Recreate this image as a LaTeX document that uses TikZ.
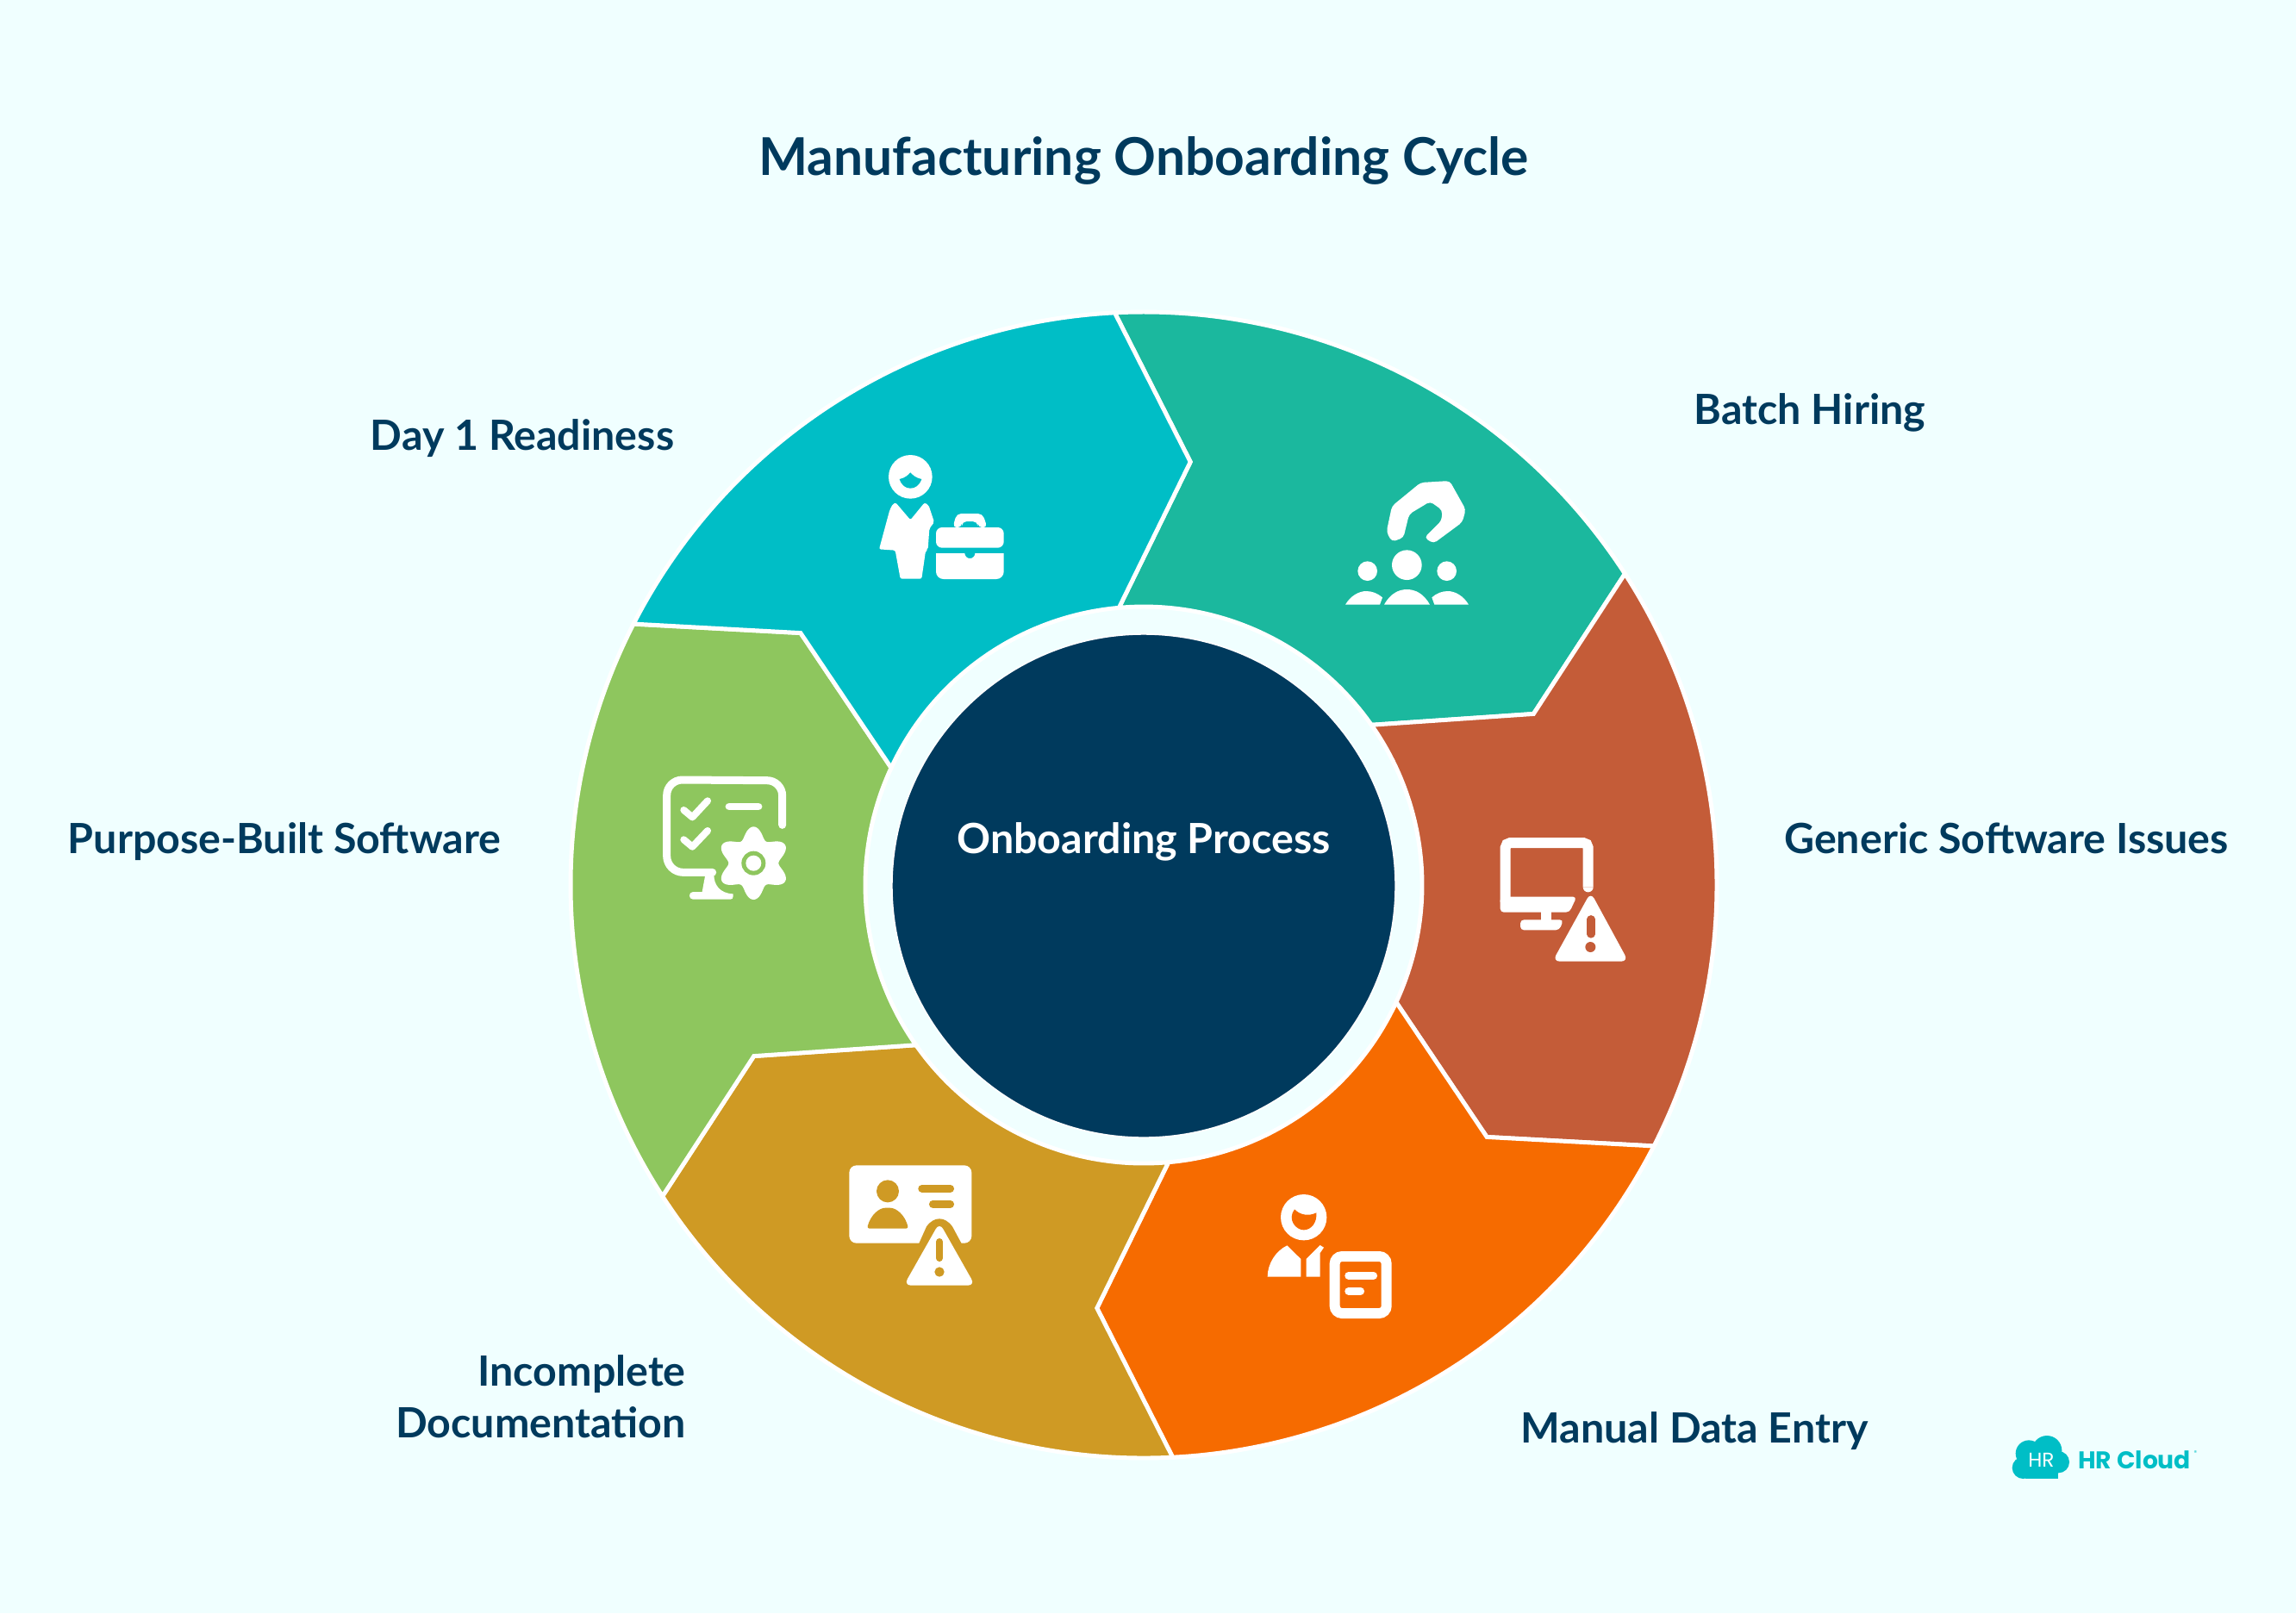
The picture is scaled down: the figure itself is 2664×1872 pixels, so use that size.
\documentclass[tikz,border=0pt]{standalone}
\usepackage{fontspec}
\setmainfont{Lato}
\newfontfamily\logofont{Poppins}
\definecolor{pagebg}{HTML}{F0FFFF}
\definecolor{navy}{HTML}{003A5D}
\definecolor{batchcol}{HTML}{1BB89E}
\definecolor{genericcol}{HTML}{C45C38}
\definecolor{manualcol}{HTML}{F66B00}
\definecolor{incompletecol}{HTML}{CF9A24}
\definecolor{purposecol}{HTML}{8EC65E}
\definecolor{daycol}{HTML}{00BEC6}
\tikzset{
  sector/.style = {draw=white, line width=1.4pt, line join=miter},
  hub/.style = {circle, fill=navy, draw=white, line width=0.5pt, minimum size=5.84cm, inner sep=0pt},
  title/.style = {font=\fontsize{17.2}{20}\selectfont\bfseries, text=navy},
  label/.style = {font=\fontsize{13.75}{17}\selectfont\bfseries, text=navy},
  icon/.style = {x=0.01cm/3, y=-0.01cm/3},
  glyph/.style = {fill=white},
}
\begin{document}
\begin{tikzpicture}[x=0.01cm, y=-0.01cm]
\pgfmathsetmacro{\Ro}{665} % outer radius
\pgfmathsetmacro{\Rm}{494} % arrow tips
\pgfmathsetmacro{\Ri}{323} % inner radius
\fill[pagebg] (0,0) rectangle (2664,1872);
\useasboundingbox (0,0) rectangle (2664,1872);

% the six arrows
\begin{scope}[shift={(1327,1027)}, y=0.01cm]
\foreach \k/\col in {0/batchcol,1/genericcol,2/manualcol,3/incompletecol,4/purposecol,5/daycol}
  \draw[sector, fill=\col, rotate=-60*\k] (92.9:\Ro) arc (92.9:32.9:\Ro) -- (23.7:\Rm) -- (35.1:\Ri) arc (35.1:95.1:\Ri) -- (83.7:\Rm) -- cycle;
\end{scope}

\node[hub] (hub) at (1327,1028) {};
\node[label, text=white] (hubtext) at (1327,977) {Onboarding Process};

\node[title] (title) at (1327,186) {Manufacturing Onboarding Cycle};
\node[label] (batch) at (2100,479) {Batch Hiring};
\node[label] (generic) at (2328,973) {Generic Software Issues};
\node[label] (manual) at (1966,1661) {Manual Data Entry};
\node[label, align=right, anchor=east] (incomplete) at (808,1621) {Incomplete\\Documentation};
\node[label] (purpose) at (330,977) {Purpose-Built Software};
\node[label] (day) at (606,509) {Day 1 Readiness};

% batch hiring icon
\begin{scope}[shift={(1300,500)}, icon]
\fill[glyph, rounded corners=1.2pt] (926,352) -- (945,262) -- (1045,180) -- (1146,174) -- (1202,274) -- (1190,318) -- (1090,392) -- (1058,372) -- (1118,312) -- (1120,276) -- (1078,246) -- (1005,290) -- (985,372) -- (945,386) -- cycle;
\fill[glyph] (997,467) circle (52) (860,488) circle (34) (1136,488) circle (34);
\fill[glyph] (918,605) .. controls (940,565) and (970,552) .. (997,552) .. controls (1025,552) and (1055,565) .. (1077,605) -- cycle;
\fill[glyph] (783,605) .. controls (800,575) and (830,558) .. (855,558) .. controls (875,558) and (895,565) .. (912,580) -- (903,605) -- cycle;
\fill[glyph] (1212,605) .. controls (1195,575) and (1165,558) .. (1140,558) .. controls (1120,558) and (1100,565) .. (1084,580) -- (1093,605) -- cycle;
\end{scope}

% day 1 icon
\begin{scope}[shift={(950,480)}, icon]
\fill[glyph] (319,220) circle (76);
\fill[daycol] (281,228) .. controls (300,224) and (310,215) .. (319,205) .. controls (328,215) and (338,224) .. (358,228) .. controls (350,250) and (335,260) .. (319,260) .. controls (303,260) and (288,250) .. (281,228) -- cycle;
\fill[glyph, rounded corners=0.6pt] (268,310) -- (319,370) -- (368,310) -- (382,318) -- (402,378) -- (385,400) -- (380,472) -- (372,478) -- (358,575) -- (284,575) -- (266,476) -- (210,472) -- (247,335) -- (258,314) -- cycle;
\fill[glyph, rounded corners=2pt] (408,467) -- (408,396) -- (644,396) -- (644,467) -- cycle;
\fill[glyph] (408,486) -- (508,486) arc (180:0:18) -- (644,486) -- (644,550) arc (0:90:26) -- (434,576) arc (90:180:26) -- cycle;
\fill[glyph, rounded corners=1.5pt] (466,397) -- (480,348) -- (570,348) -- (587,397) -- (555,397) -- (552,375) -- (499,375) -- (497,397) -- cycle;
\end{scope}

% purpose-built icon
\begin{scope}[shift={(720,860)}, icon]
\draw[white, line width=2.56pt, line cap=round] (563,292) -- (563,190) arc (0:-90:53) -- (215,135) arc (-90:-180:54) -- (161,400) arc (180:90:57) -- (320,457);
\fill[glyph] (295,465) -- (325,465) .. controls (325,500) and (345,530) .. (392,532) -- (392,540) .. controls (392,548) and (388,551) .. (382,551) -- (252,551) .. controls (236,551) and (236,525) .. (252,525) -- (284,525) -- cycle;
\draw[white, line width=2.3pt, line cap=round, line join=round] (220,240) -- (250,265) -- (303,208) (220,343) -- (250,368) -- (303,312);
\draw[white, line width=2.5pt, line cap=round] (378,228) -- (480,228);
\fill[glyph] plot[domain=0:360, samples=121, smooth] ({463+(107+20*cos(6*\x))*cos(\x+90)}, {425-(107+20*cos(6*\x))*sin(\x+90)}) -- cycle;
\fill[purposecol] (463,425) circle (42);
\fill[glyph] (463,425) circle (27);
\end{scope}

% incomplete documentation icon
\begin{scope}[shift={(960,1320)}, icon]
\fill[glyph, rounded corners=2.4pt] (76,97) rectangle (502,368);
\fill[incompletecol] (210,187) circle (39);
\fill[incompletecol, rounded corners=0.8pt] (138,317) .. controls (150,270) and (180,245) .. (210,245) .. controls (240,245) and (270,270) .. (282,317) -- cycle;
\draw[incompletecol, line width=2.5pt, line cap=round] (329,178) -- (428,178) (367,232) -- (428,232);
\fill[incompletecol] (316,375) -- (345,310) .. controls (360,290) and (375,283) .. (390,283) .. controls (405,283) and (420,290) .. (435,310) -- (470,375) -- cycle;
\fill[glyph, rounded corners=2.4pt] (390,296) -- (514,515) -- (266,515) -- cycle;
\draw[incompletecol, line width=2.3pt, line cap=round] (390,363) -- (390,420);
\fill[incompletecol] (390,468) circle (17);
\end{scope}

% manual data entry icon
\begin{scope}[shift={(1440,1360)}, icon]
\fill[glyph] (218,158) circle (80);
\fill[manualcol] (186,130) .. controls (205,150) and (235,155) .. (262,142) .. controls (265,175) and (245,202) .. (218,202) .. controls (190,202) and (160,165) .. (186,130) -- cycle;
\fill[glyph] (160,256) -- (208,303) -- (208,365) -- (92,365) .. controls (92,320) and (120,275) .. (160,256) -- cycle;
\fill[glyph] (227,303) -- (275,255) -- (288,263) -- (275,282) -- (275,365) -- (227,365) -- cycle;
\draw[white, line width=3.4pt, rounded corners=2.4pt] (326,294) rectangle (506,492);
\draw[white, line width=2.5pt, line cap=round] (374,361) -- (461,361) (374,415) -- (416,415);
\end{scope}

% generic software icon
\begin{scope}[shift={(1720,950)}, icon]
\draw[white, line width=3.4pt, rounded corners=1.6pt] (368,238) -- (368,84) -- (80,84) -- (80,290);
\fill[white] (350,238) arc (180:0:18) -- cycle;
\fill[glyph, rounded corners=1.2pt] (62,272) -- (328,272) -- (303,326) -- (62,326) -- cycle;
\fill[glyph] (205,320) rectangle (240,360);
\fill[glyph, rounded corners=1.2pt] (132,352) -- (282,352) -- (268,388) -- (132,388) -- cycle;
\fill[glyph, rounded corners=2.4pt] (377,256) -- (508,497) -- (244,497) -- cycle;
\draw[genericcol, line width=2.6pt, line cap=round] (378,350) -- (378,402);
\fill[genericcol] (376,447) circle (18);
\end{scope}

% logo
\begin{scope}[shift={(2300,1640)}, icon]
\fill[daycol] (225,130) circle (52);
\fill[daycol] (162,140) circle (46);
\fill[daycol] (265,170) circle (38);
\fill[daycol] (142,190) circle (38);
\fill[daycol] (150,150) rectangle (265,229);
\node[font=\logofont\fontsize{6.6}{8}\selectfont, text=white, inner sep=0pt] (logohr) at (205,162) {HR};
\node[font=\logofont\bfseries\fontsize{8}{10}\selectfont, text=daycol, anchor=west, inner sep=0pt] (logoname) at (332,164) {HR Cloud};
\node[font=\logofont\fontsize{2}{2}\selectfont, text=daycol, inner sep=0pt] (logomark) at (742,138) {®};
\end{scope}
\end{tikzpicture}
\end{document}
